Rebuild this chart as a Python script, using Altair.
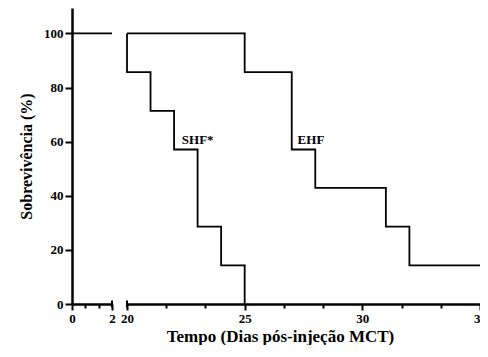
import altair as alt
import pandas as pd

# ---- data ----
left_days = [0, 2]
left_surv = [100, 100]

shf_days = [20, 20, 21, 22, 23, 24, 25]
shf_surv = [100, 85.7, 71.4, 57.1, 28.6, 14.3, 0]

ehf_days = [20, 25, 27, 28, 31, 32, 35]
ehf_surv = [100, 85.7, 57.1, 42.9, 28.6, 14.3, 14.3]

label_names = ["SHF*", "EHF"]
label_days = [22.33, 27.25]
label_surv = [59.3, 59.3]

left_ticks = [0, 0.667, 1.333, 2]
right_ticks = [20, 21.667, 23.333, 25, 26.667, 28.333, 30, 31.667, 33.333, 35]
y_ticks = [0, 20, 40, 60, 80, 100]

break_left = [2]
break_right = [20]

FONT = "Liberation Serif"

left_df = pd.DataFrame({"d": left_days, "s": left_surv})
shf_df = pd.DataFrame({"d": shf_days, "s": shf_surv})
ehf_df = pd.DataFrame({"d": ehf_days, "s": ehf_surv})
lab_df = pd.DataFrame({"d": label_days, "s": label_surv, "t": label_names})
bl_df = pd.DataFrame({"d": break_left, "lo": [-1.3], "hi": [1.3]})
br_df = pd.DataFrame({"d": break_right, "lo": [-1.3], "hi": [1.3]})

yscale = alt.Scale(domain=[0, 109.4], nice=False, zero=True)
yaxis = alt.Axis(
    values=y_ticks, title="Sobrevivência (%)", grid=False,
    labelFont=FONT, labelFontWeight="bold", labelFontSize=13, labelColor="black",
    titleFont=FONT, titleFontWeight="bold", titleFontSize=16, titleColor="black",
    domainColor="black", domainWidth=2.5, tickColor="black", tickWidth=2,
    tickSize=7, labelPadding=2, titlePadding=9,
)

xl_scale = alt.Scale(domain=[0, 2], range=[0, 40], nice=False, zero=False)
xr_scale = alt.Scale(domain=[20, 35], range=[55, 408], nice=False, zero=False)

common_x = dict(
    grid=False, orient="bottom", labelFlush=False,
    labelFont=FONT, labelFontWeight="bold", labelFontSize=13, labelColor="black",
    domainColor="black", domainWidth=2.5, tickColor="black", tickWidth=2,
    labelPadding=2,
)

xl_axis = alt.Axis(
    values=left_ticks, title=None,
    labelExpr="datum.value == 0 || datum.value == 2 ? format(datum.value, 'd') : ''",
    tickSize={"condition": {"test": "datum.value == 0 || datum.value == 2", "value": 6}, "value": 4},
    **common_x,
)
xr_axis = alt.Axis(
    values=right_ticks, title="Tempo (Dias pós-injeção MCT)",
    labelExpr="abs(datum.value % 5) < 0.01 ? format(datum.value, 'd') : ''",
    tickSize={"condition": {"test": "abs(datum.value % 5) < 0.01", "value": 6}, "value": 4},
    titleFont=FONT, titleFontWeight="bold", titleFontSize=17, titleColor="black",
    titleX=208, titleY=37, titleAlign="center", titleBaseline="alphabetic",
    **common_x,
)

left_line = alt.Chart(left_df).mark_line(color="black", strokeWidth=1.8).encode(
    x=alt.X("d:Q", scale=xl_scale, axis=xl_axis),
    y=alt.Y("s:Q", scale=yscale, axis=yaxis),
)
left_break = alt.Chart(bl_df).mark_rule(color="black", strokeWidth=2).encode(
    x=alt.X("d:Q", scale=xl_scale),
    y=alt.Y("lo:Q", scale=yscale),
    y2="hi:Q",
)
left_group = alt.layer(left_line, left_break)

shf_line = alt.Chart(shf_df).mark_line(color="black", strokeWidth=1.8, interpolate="step-after").encode(
    x=alt.X("d:Q", scale=xr_scale, axis=xr_axis),
    y=alt.Y("s:Q", scale=yscale, axis=yaxis),
)
ehf_line = alt.Chart(ehf_df).mark_line(color="black", strokeWidth=1.8, interpolate="step-after").encode(
    x=alt.X("d:Q", scale=xr_scale),
    y=alt.Y("s:Q", scale=yscale),
)
labels = alt.Chart(lab_df).mark_text(
    font=FONT, fontWeight="bold", fontSize=13, color="black", align="left", baseline="alphabetic"
).encode(
    x=alt.X("d:Q", scale=xr_scale),
    y=alt.Y("s:Q", scale=yscale),
    text="t:N",
)
right_break = alt.Chart(br_df).mark_rule(color="black", strokeWidth=2).encode(
    x=alt.X("d:Q", scale=xr_scale),
    y=alt.Y("lo:Q", scale=yscale),
    y2="hi:Q",
)
right_group = alt.layer(shf_line, ehf_line, labels, right_break)

chart = alt.layer(left_group, right_group).resolve_scale(x="independent").resolve_axis(x="independent").properties(
    width=408, height=296,
    autosize=alt.AutoSizeParams(type="none"),
    padding={"left": 64, "top": 0, "right": 0, "bottom": 41},
    background="white",
).configure_view(stroke=None)

chart.save("out.html", embed_options={"renderer": "svg", "actions": False})
